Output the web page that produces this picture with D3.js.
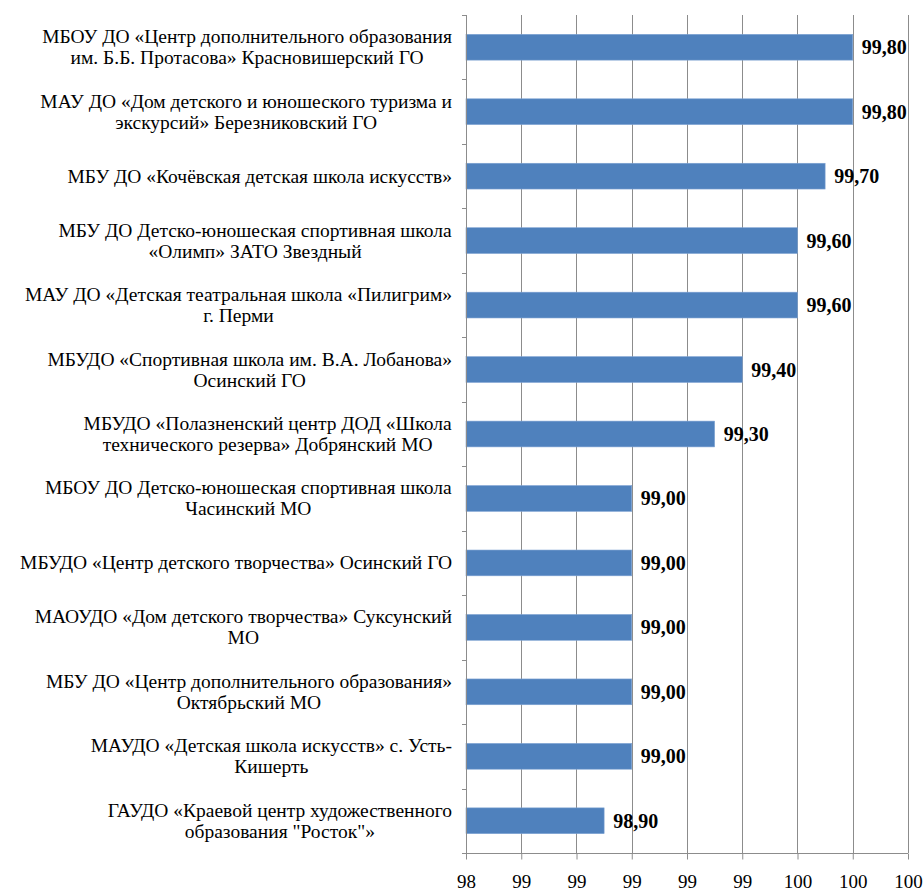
<!DOCTYPE html>
<html><head><meta charset="utf-8">
<script src="https://cdn.jsdelivr.net/npm/d3@7"></script>
<style>body{margin:0;background:#fff} svg text{font-family:"Liberation Serif","Times New Roman",serif}</style>
</head><body>
<svg id="c" width="924" height="892"></svg>
<script>
const categories = [
  ["МБОУ ДО «Центр дополнительного образования","им. Б.Б. Протасова» Красновишерский ГО"],
  ["МАУ ДО «Дом детского и юношеского туризма и","экскурсий» Березниковский ГО"],
  ["МБУ ДО «Кочёвская детская школа искусств»"],
  ["МБУ ДО Детско-юношеская спортивная школа","«Олимп» ЗАТО Звездный"],
  ["МАУ ДО «Детская театральная школа «Пилигрим»","г. Перми"],
  ["МБУДО «Спортивная школа им. В.А. Лобанова»","Осинский ГО"],
  ["МБУДО «Полазненский центр ДОД «Школа","технического резерва» Добрянский МО"],
  ["МБОУ ДО Детско-юношеская спортивная школа","Часинский МО"],
  ["МБУДО «Центр детского творчества» Осинский ГО"],
  ["МАОУДО «Дом детского творчества» Суксунский","МО"],
  ["МБУ ДО «Центр дополнительного образования»","Октябрьский МО"],
  ["МАУДО «Детская школа искусств» с. Усть-","Кишерть"],
  ["ГАУДО «Краевой центр художественного","образования \"Росток\"»"]
];
const values = [99.80, 99.80, 99.70, 99.60, 99.60, 99.40, 99.30, 99.00, 99.00, 99.00, 99.00, 99.00, 98.90];
const tickValues = [98.4, 98.6, 98.8, 99.0, 99.2, 99.4, 99.6, 99.8, 100.0];

(function(){
const svg = d3.select("#c");
const L = 466, R = 908, T = 15, B = 853;
const x = d3.scaleLinear().domain([98.4, 100]).range([L, R]);
const y = d3.scaleBand().domain(d3.range(values.length)).range([T, B]).paddingInner(0.6).paddingOuter(0.3);
const yb = d3.scaleBand().domain(d3.range(values.length)).range([T, B]);

svg.append("g").selectAll("line").data(tickValues.slice(1)).join("line")
  .attr("x1", d => Math.round(x(d)) + 0.5).attr("x2", d => Math.round(x(d)) + 0.5)
  .attr("y1", T).attr("y2", B)
  .attr("stroke", "#8c8c8c").attr("stroke-width", 1);

svg.append("g").selectAll("rect").data(values).join("rect")
  .attr("x", L).attr("y", (d, i) => y(i))
  .attr("width", d => x(d) - L).attr("height", y.bandwidth())
  .attr("fill", "#4f81bd").attr("stroke", "#7fa3d3").attr("stroke-width", 0.6);

const xa = svg.append("g").attr("transform", `translate(0,${B + 0.5})`)
  .call(d3.axisBottom(x).tickValues(tickValues).tickSize(6).tickFormat(d => d3.format(".0f")(d)));
xa.attr("font-family", null);
xa.selectAll(".tick line").attr("stroke", "#8c8c8c");
xa.selectAll("text").attr("font-size", 19).attr("fill", "#000").attr("y", 34.5).attr("dy", 0);
xa.select(".domain").attr("stroke", "#8c8c8c").attr("d", `M${L - 4},0H${R}`);

const ya = svg.append("g");
ya.append("line").attr("x1", L + 0.5).attr("x2", L + 0.5).attr("y1", T).attr("y2", B)
  .attr("stroke", "#8c8c8c");
ya.selectAll("line.t").data(d3.range(values.length)).join("line").attr("class", "t")
  .attr("x1", L - 4).attr("x2", L).attr("y1", i => Math.round(yb(i)) + 0.5).attr("y2", i => Math.round(yb(i)) + 0.5)
  .attr("stroke", "#8c8c8c");

const lab = svg.append("g").attr("font-size", 19.5).attr("fill", "#000").attr("text-anchor", "middle");
categories.forEach((lines, i) => {
  const cy = y(i) + y.bandwidth() / 2;
  const n = lines.length, lh = 21;
  const t = lab.append("text");
  lines.forEach((s, k) => {
    t.append("tspan").attr("x", 240).attr("y", cy + (k - (n - 1) / 2) * lh + 6.5).text(s);
  });
});
lab.selectAll("text").each(function() {
  const bb = this.getBBox();
  const shift = 452 - (bb.x + bb.width);
  d3.select(this).selectAll("tspan").attr("x", 240 + shift);
});

svg.append("g").selectAll("text").data(values).join("text")
  .attr("x", d => x(d) + 9).attr("y", (d, i) => y(i) + y.bandwidth() / 2 + 7)
  .attr("font-weight", "bold").attr("font-size", 20).attr("fill", "#000")
  .text(d => d3.format(".2f")(d).replace(".", ","));
})();
</script>
</body></html>
